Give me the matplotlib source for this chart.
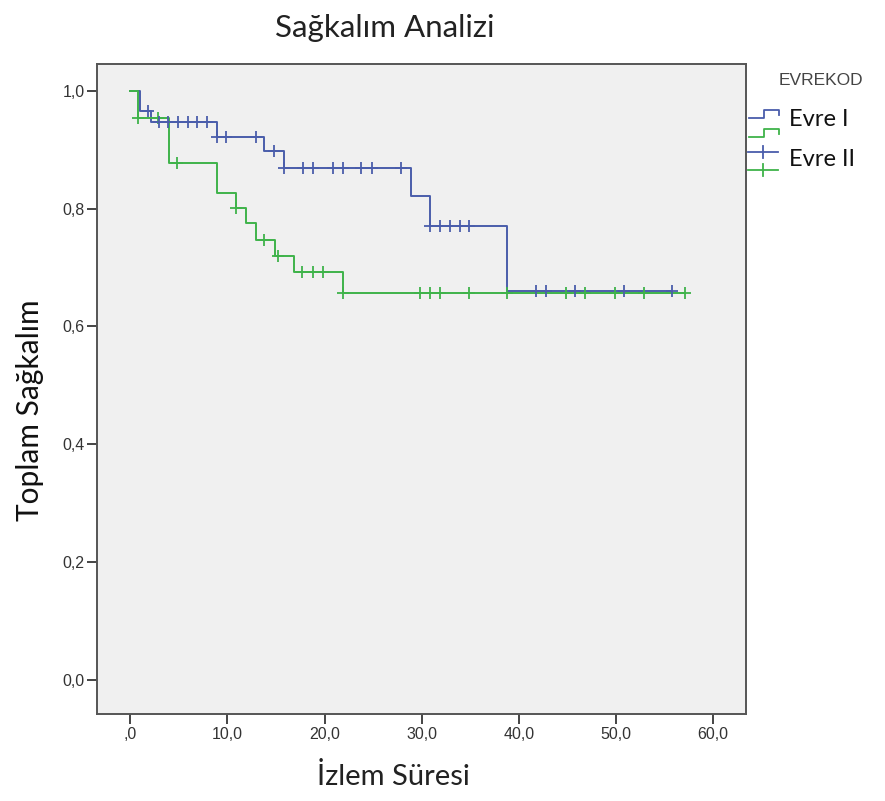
import numpy as np
import matplotlib
matplotlib.use('Agg')
import matplotlib.pyplot as plt
from matplotlib.lines import Line2D

# Kaplan-Meier adımları (zaman, sağkalım)
evre1_t = [0, 1.0, 2.1, 8.9, 13.8, 15.8, 28.9, 30.9, 38.8, 55.8]
evre1_s = [1.0, 0.965, 0.947, 0.922, 0.897, 0.868, 0.821, 0.771, 0.661, 0.661]
evre1_cens = [1.8, 2.9, 3.9, 4.9, 5.9, 6.9, 7.9, 8.9, 9.8, 12.9, 14.8, 15.8,
              17.8, 18.8, 20.9, 21.9, 23.8, 24.9, 27.9, 30.9, 31.9, 32.9,
              33.9, 34.9, 41.8, 42.8, 45.8, 50.8, 55.8]

evre2_t = [0, 0.8, 3.95, 8.9, 10.9, 11.9, 12.9, 14.9, 16.9, 21.9, 57.1]
evre2_s = [1.0, 0.954, 0.877, 0.826, 0.801, 0.775, 0.747, 0.719, 0.692, 0.656, 0.656]
evre2_cens = [0.8, 2.8, 4.8, 10.9, 13.8, 15.2, 17.7, 18.8, 19.8, 21.9, 29.8,
              30.9, 31.9, 34.9, 38.8, 44.9, 46.8, 49.9, 52.9, 57.1]

xticks = [0, 10, 20, 30, 40, 50, 60]
xtick_labels = [',0', '10,0', '20,0', '30,0', '40,0', '50,0', '60,0']
yticks = [0.0, 0.2, 0.4, 0.6, 0.8, 1.0]
ytick_labels = ['0,0', '0,2', '0,4', '0,6', '0,8', '1,0']

blue = '#4a5dab'
green = '#3fb34a'


def step_at(t, s, x):
    i = np.searchsorted(t, x, side='right') - 1
    return np.array(s)[i]


fig = plt.figure(figsize=(8.85, 8.01), dpi=100)
ax = fig.add_axes([0.110, 0.108, 0.733, 0.812])
ax.set_facecolor('#f0f0f0')

ax.step(evre1_t, evre1_s, where='post', color=blue, lw=1.4)
ax.step(evre2_t, evre2_s, where='post', color=green, lw=1.4)
ax.plot(evre2_cens, step_at(evre2_t, evre2_s, evre2_cens), ls='none',
        marker='+', ms=9, mew=1.3, color=green)
ax.plot(evre1_cens, step_at(evre1_t, evre1_s, evre1_cens), ls='none',
        marker='+', ms=9, mew=1.3, color=blue)

ax.set_xlim(-3.4, 63.4)
ax.set_ylim(-0.058, 1.045)
ax.set_xticks(xticks, xtick_labels)
ax.set_yticks(yticks, ytick_labels)
for sp in ax.spines.values():
    sp.set_color('#555555')
    sp.set_linewidth(1.4)
ax.tick_params(axis='both', direction='out', length=7, width=1.4,
               color='#444444', labelsize=11.5, labelcolor='#333333', pad=2)
for lab in ax.get_xticklabels() + ax.get_yticklabels():
    lab.set_family('Liberation Sans')

fig.text(0.435, 0.965, 'Sağkalım Analizi', ha='center', va='center',
         fontsize=22.5, family='Lato', color='#222222')
fig.text(0.034, 0.488, 'Toplam Sağkalım', ha='center', va='center',
         rotation=90, fontsize=21.5, family='Lato', color='#111111')
fig.text(0.444, 0.031, 'İzlem Süresi', ha='center', va='center',
         fontsize=21, family='Lato', color='#222222')

# lejant
fig.text(0.928, 0.899, 'EVREKOD', ha='center', va='center', fontsize=12.5,
         family='Liberation Sans', color='#444444')


def fx(px):
    return px / 885


def fy(py):
    return 1 - py / 801


def fline(xs, ys, c):
    fig.add_artist(Line2D([fx(v) for v in xs], [fy(v) for v in ys], color=c,
                          lw=1.3, transform=fig.transFigure))


def step_icon(y, c):
    fline([749, 764, 764, 779, 779], [y + 4, y + 4, y - 4, y - 4, y + 1], c)


def plus_icon(y, c):
    fline([748, 778], [y, y], c)
    fline([763, 763], [y - 6, y + 6], c)


step_icon(114, blue)
step_icon(133, green)
plus_icon(152, blue)
plus_icon(170, green)
for y, s in [(120, 'Evre I'), (159, 'Evre II')]:
    fig.text(fx(789), fy(y), s, ha='left', va='center', fontsize=17,
             family='Lato', color='#111111')

fig.savefig('out.png', dpi=100, facecolor='white')
